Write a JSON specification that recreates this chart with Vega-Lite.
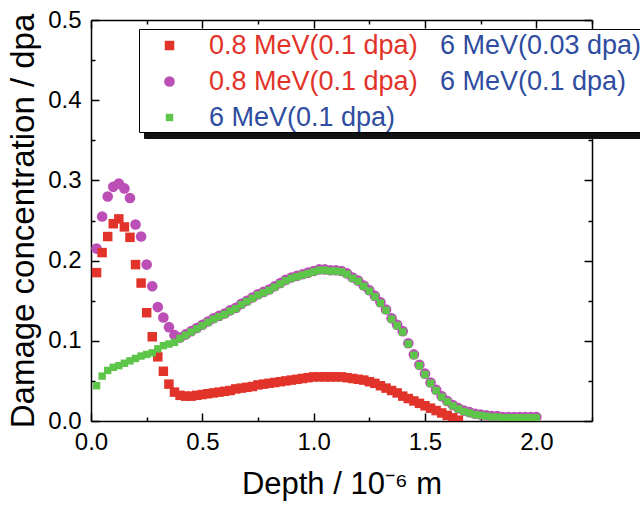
{
  "$schema": "https://vega.github.io/schema/vega-lite/v6.json",
  "width": 501,
  "height": 401,
  "autosize": {"type": "none"},
  "padding": {"left": 91, "top": 20, "right": 48, "bottom": 84},
  "background": "white",
  "config": {
    "view": {"stroke": null},
    "axis": {"domainColor": "black", "domainWidth": 1.5, "tickColor": "black", "tickWidth": 1.5, "labelColor": "black", "titleColor": "black", "labelFont": "Liberation Sans", "titleFont": "Liberation Sans", "labelFontSize": 24, "titleFontSize": 31, "titleFontWeight": "normal", "grid": false, "labelFlush": false, "labelOverlap": false, "labelBound": false}
  },
  "datasets": {
    "damage": [
      {"series":"B","depth":0.025,"damage":0.215},{"series":"B","depth":0.05,"damage":0.255},{"series":"B","depth":0.075,"damage":0.28},{"series":"B","depth":0.1,"damage":0.292},{"series":"B","depth":0.125,"damage":0.296},{"series":"B","depth":0.15,"damage":0.29},{"series":"B","depth":0.175,"damage":0.278},{"series":"B","depth":0.2,"damage":0.245},{"series":"B","depth":0.225,"damage":0.23},{"series":"B","depth":0.25,"damage":0.195},{"series":"B","depth":0.275,"damage":0.168},{"series":"B","depth":0.3,"damage":0.142},{"series":"B","depth":0.325,"damage":0.129},{"series":"B","depth":0.35,"damage":0.117},{"series":"B","depth":0.375,"damage":0.107},{"series":"B","depth":0.4,"damage":0.104},
      {"series":"B","depth":0.425,"damage":0.108},{"series":"B","depth":0.45,"damage":0.112},{"series":"B","depth":0.475,"damage":0.116},{"series":"B","depth":0.5,"damage":0.12},{"series":"B","depth":0.525,"damage":0.124},{"series":"B","depth":0.55,"damage":0.128},{"series":"B","depth":0.575,"damage":0.131},{"series":"B","depth":0.6,"damage":0.134},{"series":"B","depth":0.625,"damage":0.138},{"series":"B","depth":0.65,"damage":0.141},{"series":"B","depth":0.675,"damage":0.146},{"series":"B","depth":0.7,"damage":0.15},{"series":"B","depth":0.725,"damage":0.154},{"series":"B","depth":0.75,"damage":0.158},{"series":"B","depth":0.775,"damage":0.161},{"series":"B","depth":0.8,"damage":0.164},{"series":"B","depth":0.825,"damage":0.168},{"series":"B","depth":0.85,"damage":0.172},{"series":"B","depth":0.875,"damage":0.176},{"series":"B","depth":0.9,"damage":0.179},{"series":"B","depth":0.925,"damage":0.181},{"series":"B","depth":0.95,"damage":0.183},{"series":"B","depth":0.975,"damage":0.185},{"series":"B","depth":1.0,"damage":0.187},{"series":"B","depth":1.025,"damage":0.189},{"series":"B","depth":1.05,"damage":0.189},{"series":"B","depth":1.075,"damage":0.188},{"series":"B","depth":1.1,"damage":0.188},{"series":"B","depth":1.125,"damage":0.187},{"series":"B","depth":1.15,"damage":0.184},{"series":"B","depth":1.175,"damage":0.179},{"series":"B","depth":1.2,"damage":0.175},{"series":"B","depth":1.225,"damage":0.169},{"series":"B","depth":1.25,"damage":0.163},{"series":"B","depth":1.275,"damage":0.156},{"series":"B","depth":1.3,"damage":0.148},{"series":"B","depth":1.325,"damage":0.139},{"series":"B","depth":1.35,"damage":0.128},{"series":"B","depth":1.375,"damage":0.12},{"series":"B","depth":1.4,"damage":0.112},{"series":"B","depth":1.425,"damage":0.097},{"series":"B","depth":1.45,"damage":0.083},{"series":"B","depth":1.475,"damage":0.07},{"series":"B","depth":1.5,"damage":0.059},{"series":"B","depth":1.525,"damage":0.048},{"series":"B","depth":1.55,"damage":0.039},{"series":"B","depth":1.575,"damage":0.031},{"series":"B","depth":1.6,"damage":0.025},{"series":"B","depth":1.625,"damage":0.02},{"series":"B","depth":1.65,"damage":0.016},{"series":"B","depth":1.675,"damage":0.013},{"series":"B","depth":1.7,"damage":0.011},{"series":"B","depth":1.725,"damage":0.009},{"series":"B","depth":1.75,"damage":0.008},{"series":"B","depth":1.775,"damage":0.007},{"series":"B","depth":1.8,"damage":0.006},{"series":"B","depth":1.825,"damage":0.006},{"series":"B","depth":1.85,"damage":0.005},{"series":"B","depth":1.875,"damage":0.005},{"series":"B","depth":1.9,"damage":0.005},{"series":"B","depth":1.925,"damage":0.005},{"series":"B","depth":1.95,"damage":0.005},{"series":"B","depth":1.975,"damage":0.005},{"series":"B","depth":2.0,"damage":0.005},
      {"series":"A","depth":0.025,"damage":0.185},{"series":"A","depth":0.05,"damage":0.21},{"series":"A","depth":0.075,"damage":0.23},{"series":"A","depth":0.1,"damage":0.246},{"series":"A","depth":0.125,"damage":0.252},{"series":"A","depth":0.15,"damage":0.242},{"series":"A","depth":0.175,"damage":0.229},{"series":"A","depth":0.2,"damage":0.195},{"series":"A","depth":0.225,"damage":0.172},{"series":"A","depth":0.25,"damage":0.135},{"series":"A","depth":0.275,"damage":0.105},{"series":"A","depth":0.3,"damage":0.08},{"series":"A","depth":0.325,"damage":0.062},{"series":"A","depth":0.35,"damage":0.046},{"series":"A","depth":0.375,"damage":0.036},{"series":"A","depth":0.4,"damage":0.032},{"series":"A","depth":0.425,"damage":0.031},{"series":"A","depth":0.45,"damage":0.031},{"series":"A","depth":0.475,"damage":0.032},{"series":"A","depth":0.5,"damage":0.033},{"series":"A","depth":0.525,"damage":0.034},{"series":"A","depth":0.55,"damage":0.035},{"series":"A","depth":0.575,"damage":0.036},{"series":"A","depth":0.6,"damage":0.037},{"series":"A","depth":0.625,"damage":0.038},{"series":"A","depth":0.65,"damage":0.04},{"series":"A","depth":0.675,"damage":0.041},{"series":"A","depth":0.7,"damage":0.042},{"series":"A","depth":0.725,"damage":0.043},{"series":"A","depth":0.75,"damage":0.045},{"series":"A","depth":0.775,"damage":0.046},{"series":"A","depth":0.8,"damage":0.047},{"series":"A","depth":0.825,"damage":0.048},{"series":"A","depth":0.85,"damage":0.049},{"series":"A","depth":0.875,"damage":0.05},{"series":"A","depth":0.9,"damage":0.051},{"series":"A","depth":0.925,"damage":0.052},{"series":"A","depth":0.95,"damage":0.053},{"series":"A","depth":0.975,"damage":0.054},{"series":"A","depth":1.0,"damage":0.055},{"series":"A","depth":1.025,"damage":0.055},{"series":"A","depth":1.05,"damage":0.055},{"series":"A","depth":1.075,"damage":0.055},{"series":"A","depth":1.1,"damage":0.055},{"series":"A","depth":1.125,"damage":0.055},{"series":"A","depth":1.15,"damage":0.054},{"series":"A","depth":1.175,"damage":0.053},{"series":"A","depth":1.2,"damage":0.052},{"series":"A","depth":1.225,"damage":0.051},{"series":"A","depth":1.25,"damage":0.049},{"series":"A","depth":1.275,"damage":0.047},{"series":"A","depth":1.3,"damage":0.044},{"series":"A","depth":1.325,"damage":0.041},{"series":"A","depth":1.35,"damage":0.038},{"series":"A","depth":1.375,"damage":0.035},{"series":"A","depth":1.4,"damage":0.031},{"series":"A","depth":1.425,"damage":0.028},{"series":"A","depth":1.45,"damage":0.025},{"series":"A","depth":1.475,"damage":0.022},{"series":"A","depth":1.5,"damage":0.019},{"series":"A","depth":1.525,"damage":0.016},{"series":"A","depth":1.55,"damage":0.013},{"series":"A","depth":1.575,"damage":0.01},{"series":"A","depth":1.6,"damage":0.007},{"series":"A","depth":1.625,"damage":0.004},{"series":"A","depth":1.65,"damage":0.001},
      {"series":"C","depth":0.025,"damage":0.044},{"series":"C","depth":0.05,"damage":0.056},{"series":"C","depth":0.075,"damage":0.063},{"series":"C","depth":0.1,"damage":0.067},{"series":"C","depth":0.125,"damage":0.069},{"series":"C","depth":0.15,"damage":0.072},{"series":"C","depth":0.175,"damage":0.075},{"series":"C","depth":0.2,"damage":0.078},{"series":"C","depth":0.225,"damage":0.081},{"series":"C","depth":0.25,"damage":0.083},{"series":"C","depth":0.275,"damage":0.085},{"series":"C","depth":0.3,"damage":0.09},{"series":"C","depth":0.325,"damage":0.094},{"series":"C","depth":0.35,"damage":0.096},{"series":"C","depth":0.375,"damage":0.098},{"series":"C","depth":0.4,"damage":0.103},{"series":"C","depth":0.425,"damage":0.107},{"series":"C","depth":0.45,"damage":0.111},{"series":"C","depth":0.475,"damage":0.115},{"series":"C","depth":0.5,"damage":0.119},{"series":"C","depth":0.525,"damage":0.123},{"series":"C","depth":0.55,"damage":0.127},{"series":"C","depth":0.575,"damage":0.13},{"series":"C","depth":0.6,"damage":0.133},{"series":"C","depth":0.625,"damage":0.137},{"series":"C","depth":0.65,"damage":0.14},{"series":"C","depth":0.675,"damage":0.145},{"series":"C","depth":0.7,"damage":0.149},{"series":"C","depth":0.725,"damage":0.153},{"series":"C","depth":0.75,"damage":0.157},{"series":"C","depth":0.775,"damage":0.16},{"series":"C","depth":0.8,"damage":0.163},{"series":"C","depth":0.825,"damage":0.167},{"series":"C","depth":0.85,"damage":0.171},{"series":"C","depth":0.875,"damage":0.175},{"series":"C","depth":0.9,"damage":0.178},{"series":"C","depth":0.925,"damage":0.18},{"series":"C","depth":0.95,"damage":0.182},{"series":"C","depth":0.975,"damage":0.184},{"series":"C","depth":1.0,"damage":0.186},{"series":"C","depth":1.025,"damage":0.188},{"series":"C","depth":1.05,"damage":0.188},{"series":"C","depth":1.075,"damage":0.187},{"series":"C","depth":1.1,"damage":0.187},{"series":"C","depth":1.125,"damage":0.186},{"series":"C","depth":1.15,"damage":0.183},{"series":"C","depth":1.175,"damage":0.178},{"series":"C","depth":1.2,"damage":0.174},{"series":"C","depth":1.225,"damage":0.168},{"series":"C","depth":1.25,"damage":0.162},{"series":"C","depth":1.275,"damage":0.155},{"series":"C","depth":1.3,"damage":0.147},{"series":"C","depth":1.325,"damage":0.138},{"series":"C","depth":1.35,"damage":0.127},{"series":"C","depth":1.375,"damage":0.119},{"series":"C","depth":1.4,"damage":0.111},{"series":"C","depth":1.425,"damage":0.096},{"series":"C","depth":1.45,"damage":0.082},{"series":"C","depth":1.475,"damage":0.069},{"series":"C","depth":1.5,"damage":0.058},{"series":"C","depth":1.525,"damage":0.047},{"series":"C","depth":1.55,"damage":0.038},{"series":"C","depth":1.575,"damage":0.03},{"series":"C","depth":1.6,"damage":0.024},{"series":"C","depth":1.625,"damage":0.019},{"series":"C","depth":1.65,"damage":0.015},{"series":"C","depth":1.675,"damage":0.012},{"series":"C","depth":1.7,"damage":0.01},{"series":"C","depth":1.725,"damage":0.008},{"series":"C","depth":1.75,"damage":0.007},{"series":"C","depth":1.775,"damage":0.006},{"series":"C","depth":1.8,"damage":0.005},{"series":"C","depth":1.825,"damage":0.005},{"series":"C","depth":1.85,"damage":0.004},{"series":"C","depth":1.875,"damage":0.004},{"series":"C","depth":1.9,"damage":0.004},{"series":"C","depth":1.925,"damage":0.004},{"series":"C","depth":1.95,"damage":0.004},{"series":"C","depth":1.975,"damage":0.004},{"series":"C","depth":2.0,"damage":0.004}
    ]
  },
  "data": {"name": "damage"},
  "resolve": {"axis": {"x": "independent", "y": "independent"}},
  "layer": [
    {
      "mark": {"type": "point", "filled": true, "opacity": 1, "clip": true, "strokeWidth": 0},
      "encoding": {
        "x": {
          "field": "depth", "type": "quantitative",
          "scale": {"domain": [0, 2.25], "nice": false, "zero": false},
          "axis": {
            "orient": "bottom", "title": "Depth / 10\u207b\u2076 m",
            "values": [0, 0.25, 0.5, 0.75, 1, 1.25, 1.5, 1.75, 2, 2.25],
            "labelExpr": "abs(datum.value*2 - round(datum.value*2)) < 0.001 ? format(datum.value, '.1f') : ''",
            "tickSize": {"condition": {"test": "abs(datum.value*2 - round(datum.value*2)) < 0.001", "value": -8}, "value": -4},
            "labelPadding": 17, "titlePadding": 11
          }
        },
        "y": {
          "field": "damage", "type": "quantitative",
          "scale": {"domain": [0, 0.5], "nice": false, "zero": false},
          "axis": {
            "orient": "left", "title": "Damage concentration / dpa", "titleFontSize": 33,
            "values": [0, 0.05, 0.1, 0.15, 0.2, 0.25, 0.3, 0.35, 0.4, 0.45, 0.5],
            "labelExpr": "abs(datum.value*10 - round(datum.value*10)) < 0.001 ? format(datum.value, '.1f') : ''",
            "tickSize": {"condition": {"test": "abs(datum.value*10 - round(datum.value*10)) < 0.001", "value": -8}, "value": -4},
            "labelPadding": 18, "titlePadding": 7
          }
        },
        "color": {
          "field": "series", "type": "nominal",
          "scale": {"domain": ["A", "B", "C"], "range": ["#e2332a", "#bb4fb6", "#5ec54b"]},
          "legend": {
            "orient": "none", "legendX": 48, "legendY": 9, "title": null, "zindex": 3,
            "labelExpr": "datum.value == 'C' ? '6 MeV(0.1 dpa)' : '0.8 MeV(0.1 dpa)'",
            "labelFont": "Liberation Sans", "labelFontSize": 27, "labelLimit": 2000,
            "labelColor": {"expr": "datum.value == 'C' ? '#2f4da0' : '#e2332a'"},
            "padding": 3, "rowPadding": 8,
            "symbolOffset": 14, "labelOffset": 26, "symbolStrokeWidth": 0, "symbolOpacity": 1
          }
        },
        "shape": {
          "field": "series", "type": "nominal",
          "scale": {"domain": ["A", "B", "C"], "range": ["square", "circle", "square"]}
        },
        "size": {
          "field": "series", "type": "ordinal",
          "scale": {"type": "ordinal", "domain": ["A", "B", "C"], "range": [90, 113, 55]}
        }
      }
    },
    {
      "transform": [{"filter": "datum.series != 'C'"}],
      "mark": {"type": "point", "filled": true, "opacity": 0},
      "encoding": {
        "x": {
          "field": "depth", "type": "quantitative",
          "axis": {
            "orient": "top", "title": null, "labels": false,
            "values": [0, 0.25, 0.5, 0.75, 1, 1.25, 1.5, 1.75, 2, 2.25],
            "tickSize": {"condition": {"test": "abs(datum.value*2 - round(datum.value*2)) < 0.001", "value": -8}, "value": -4}
          }
        },
        "y": {
          "field": "damage", "type": "quantitative",
          "axis": {
            "orient": "right", "title": null, "labels": false,
            "values": [0, 0.05, 0.1, 0.15, 0.2, 0.25, 0.3, 0.35, 0.4, 0.45, 0.5],
            "tickSize": {"condition": {"test": "abs(datum.value*10 - round(datum.value*10)) < 0.001", "value": -8}, "value": -4}
          }
        },
        "fill": {
          "field": "series", "type": "nominal",
          "scale": {"domain": ["A", "B"], "range": ["white", "white"]},
          "legend": {
            "orient": "none", "legendX": 315, "legendY": 9, "title": null, "zindex": 2,
            "labelExpr": "datum.value == 'A' ? '6 MeV(0.03 dpa)' : '6 MeV(0.1 dpa)'",
            "labelFont": "Liberation Sans", "labelFontSize": 27, "labelLimit": 2000,
            "labelColor": "#2f4da0", "padding": 3, "rowPadding": 8,
            "symbolSize": 100, "symbolStrokeWidth": 0, "symbolOpacity": 0, "labelOffset": 4
          }
        },
        "stroke": {
          "field": "series", "type": "nominal",
          "scale": {"domain": ["A", "B", "X"], "range": ["white", "white", "white"]},
          "legend": {
            "orient": "none", "legendX": 48, "legendY": 9, "title": null, "zindex": 1,
            "labelExpr": "''", "labelFontSize": 27,
            "strokeColor": "black", "fillColor": "white", "padding": 3, "rowPadding": 7,
            "symbolOffset": 500, "symbolSize": 700, "symbolStrokeWidth": 0, "symbolOpacity": 0, "labelOffset": 4
          }
        },
        "strokeDash": {
          "field": "series", "type": "nominal",
          "scale": {"domain": ["B", "A", "X"], "range": [[1, 0], [1, 0], [1, 0]]},
          "legend": {
            "orient": "none", "legendX": 53, "legendY": 15, "title": null, "zindex": 0,
            "labelExpr": "''", "labelFontSize": 27,
            "strokeColor": "#111111", "fillColor": "#111111", "padding": 3, "rowPadding": 7,
            "symbolOffset": 500, "symbolSize": 700, "symbolStrokeWidth": 0, "symbolOpacity": 0, "labelOffset": 4
          }
        }
      }
    }
  ]
}
